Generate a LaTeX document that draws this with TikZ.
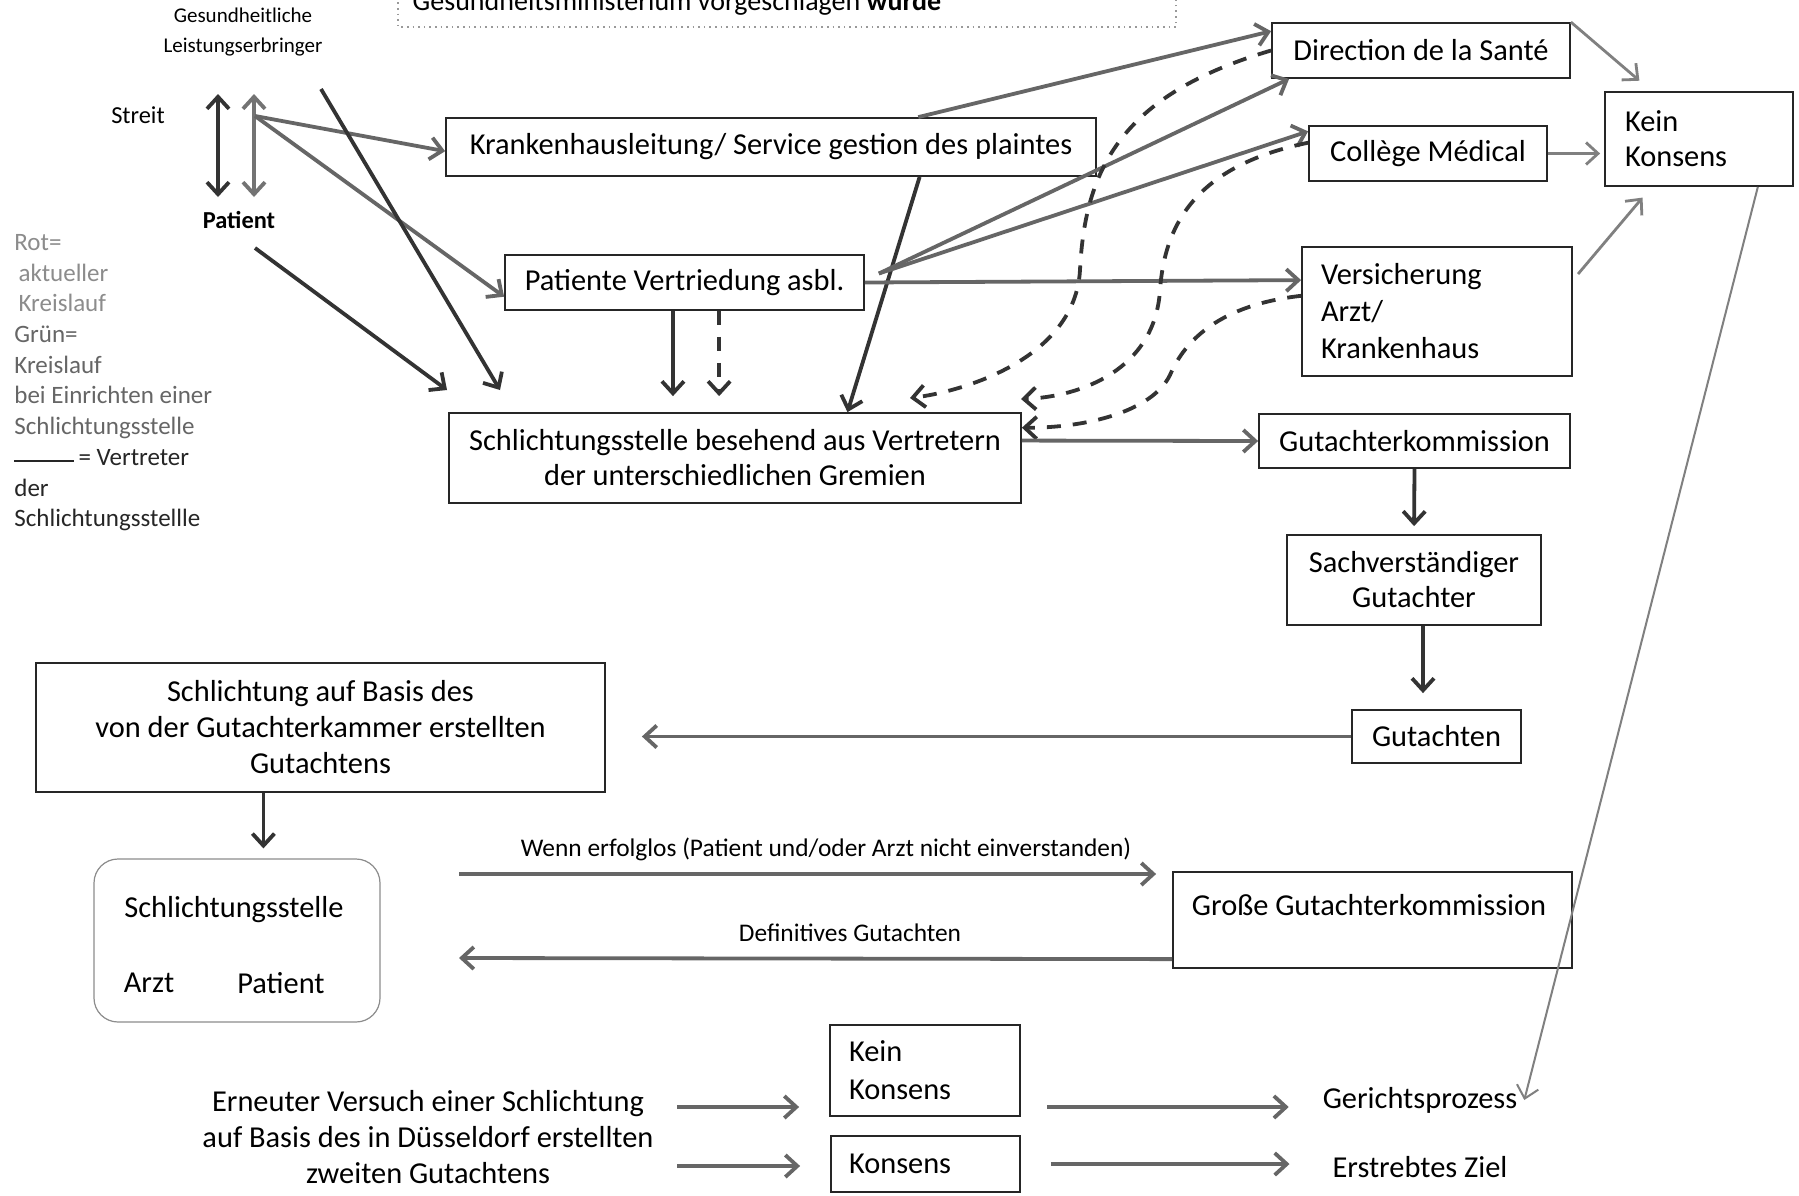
\documentclass[tikz,border=0pt]{standalone}
\usepackage{fontspec}
\setmainfont{Carlito}
\usetikzlibrary{arrows.meta,calc}
\begin{document}
\begin{tikzpicture}[x=0.5pt,y=-0.5pt,
  font=\fontsize{15.2}{17.5}\selectfont,
  box/.style={draw=black!85,line width=0.9pt,inner sep=0pt,align=center},
  small/.style={font=\fontsize{10.5}{15.4}\selectfont,inner sep=0pt},
  con/.style={line width=1.9pt,-{Straight Barb[length=6pt,width=11pt]}},
  dk/.style={con,draw=black!80},
  md/.style={con,draw=black!60},
  lt/.style={con,draw=black!50,line width=1.4pt},
  dsh/.style={dk,dash pattern=on 7pt off 6pt},
  dbl/.style={line width=1.9pt,{Straight Barb[length=6pt,width=11pt]}-{Straight Barb[length=6pt,width=11pt]}},
]
\useasboundingbox (0,0) rectangle (1799,1195);
\clip (0,0) rectangle (1799,1195);
\fill[white] (0,0) rectangle (1799,1195);

% top cut-off box
\draw[black!40,dotted,line width=0.8pt] (398,-20) rectangle (1176,27);
\node[anchor=base,font=\fontsize{14}{16}\selectfont] (gmt) at (677,10) {Gesundheitsministerium vorgeschlagen \textbf{würde}};

% boxes
\node[box,minimum width=325pt,minimum height=29pt] (kh) at (771,147) {Krankenhausleitung/ Service gestion des plaintes};
\node[box,minimum width=149pt,minimum height=27.5pt] (dir) at (1421,50.5) {Direction de la Santé};
\node[box,minimum width=119pt,minimum height=27.5pt] (col) at (1428,153.5) {Collège Médical};
\node[box,minimum width=94pt,minimum height=47pt,text width=74pt,align=left] (kk1) at (1699,139) {Kein\\Konsens};
\node[box,minimum width=179.5pt,minimum height=27.5pt] (pv) at (684.5,282.5) {Patiente Vertriedung asbl.};
\node[box,minimum width=135pt,minimum height=64.5pt,text width=116pt,align=left] (vers) at (1437,311.5) {Versicherung\\[1pt]Arzt/\\[1pt]Krankenhaus};
\node[box,minimum width=286pt,minimum height=45pt] (sch) at (735,458) {Schlichtungsstelle besehend aus Vertretern\\der unterschiedlichen Gremien};
\node[box,minimum width=155.5pt,minimum height=27pt] (gk) at (1414.5,441) {Gutachterkommission};
\node[box,minimum width=127pt,minimum height=45pt] (sv) at (1414,580) {Sachverständiger\\Gutachter};
\node[box,minimum width=84.5pt,minimum height=26.5pt] (gut) at (1436.5,736.5) {Gutachten};
\node[box,minimum width=284.5pt,minimum height=64.5pt] (sab) at (320.5,727.5) {Schlichtung auf Basis des\\[0.5pt]von der Gutachterkammer erstellten\\[0.5pt]Gutachtens};
\node[draw=black!45,line width=0.6pt,rounded corners=12pt,minimum width=143pt,minimum height=81.5pt] (ss) at (237,940.5) {};
\node (sst) at (234,910) {Schlichtungsstelle};
\node (arzt) at (149,983) {Arzt};
\node (ptn) at (281,983) {Patient};
\node[box,minimum width=199.5pt,minimum height=48pt] (ggk) at (1372.5,920) {};
\node (ggkt) at (1369,905) {Große Gutachterkommission};
\node[box,minimum width=95pt,minimum height=45.5pt,text width=76pt,align=left] (kk2) at (925,1070.5) {Kein\\[1.5pt]Konsens};
\node[box,minimum width=94.5pt,minimum height=28pt,text width=76.5pt,align=left] (kon) at (925.5,1164) {Konsens};

% free texts
\node[align=center,font=\fontsize{15.2}{18}\selectfont] (ern) at (428,1137) {Erneuter Versuch einer Schlichtung\\auf Basis des in Düsseldorf erstellten\\zweiten Gutachtens};
\node (ger) at (1420,1100) {Gerichtsprozess};
\node (ziel) at (1420,1167) {Erstrebtes Ziel};
\node[small,font=\fontsize{12.7}{14}\selectfont] (wenn) at (826,849) {Wenn erfolglos (Patient und/oder Arzt nicht einverstanden)};
\node[small,font=\fontsize{12.7}{14}\selectfont] (def) at (850,933) {Definitives Gutachten};
\node[small,align=center] (gl) at (243,32) {Gesundheitliche\\Leistungserbringer};
\node[small,font=\fontsize{12.2}{14}\selectfont] (streit) at (138,115) {Streit};
\node[small,font=\fontsize{12.2}{14}\selectfont\bfseries] (pat) at (239,220) {Patient};
\node[small,font=\fontsize{12.5}{15.35}\selectfont,align=left,anchor=north west] (leg) at (14,234) {%
\textcolor{black!45}{Rot=}\\
\textcolor{black!45}{\,aktueller}\\
\textcolor{black!45}{\,Kreislauf}\\
\textcolor{black!60}{Grün=}\\
\textcolor{black!60}{Kreislauf}\\
\textcolor{black!60}{bei Einrichten einer}\\
\textcolor{black!60}{Schlichtungsstelle}\\
\textcolor{black!85}{\rule[0.3ex]{2.4em}{1pt}\,= Vertreter}\\
\textcolor{black!85}{der}\\
\textcolor{black!85}{Schlichtungsstellle}};

% coordinates for free ends
\coordinate (da1t) at (218,94);
\coordinate (da1b) at (218,197);
\coordinate (da2t) at (254,94);
\coordinate (da2b) at (254,197);
\coordinate (s2) at (255,116);
\coordinate (s3) at (321,89);
\coordinate (e3) at (500,390);
\coordinate (s4) at (255,248);
\coordinate (e4) at (447,390);
\coordinate (hub) at ($(pv.east)+(14,-9)$);
\coordinate (p1) at ($(pv.south west)!0.468!(pv.south east)$);
\coordinate (p2) at ($(pv.south west)!0.596!(pv.south east)$);
\coordinate (d1e) at (910,398);
\coordinate (d2e) at (1021,399);
\coordinate (q) at ($(sv.south)+(9,0)$);
\coordinate (r) at ($(sab.south west)!0.40!(sab.south east)$);
\coordinate (w1) at (459,874);
\coordinate (w2) at (459,958);
\coordinate (gl2) at ($(ggk.north west)!0.9!(ggk.south west)$);
\coordinate (a1) at (677,1107);
\coordinate (a2) at (677,1166);
\coordinate (b1) at (1020,1107);

% left connectors
\draw[dbl,draw=black!80] (da1t) -- (da1b);
\draw[dbl,draw=black!55] (da2t) -- (da2b);
\draw[md] (s2) -- ($(kh.north west)!0.57!(kh.south west)$);
\draw[md] (s2) -- ($(pv.north west)!0.75!(pv.south west)$);
\draw[dk] (s3) -- (e3);
\draw[dk] (s4) -- (e4);

% upper middle connectors
\draw[md] ($(kh.north west)!0.726!(kh.north east)$) -- ($(dir.north west)!0.16!(dir.south west)$);
\draw[dk] ($(kh.south west)!0.728!(kh.south east)$) -- ($(sch.north west)!0.696!(sch.north east)$);
\draw[md] (hub) -- ($(dir.south west)!0.06!(dir.south east)$);
\draw[md] (hub) -- ($(col.north west)!0.11!(col.south west)$);
\draw[md] (pv.east) -- ($(vers.north west)!0.26!(vers.south west)$);
\draw[dk,shorten >=8pt] (p1) -- (p1 |- sch.north);
\draw[dsh,shorten >=8pt] (p2) -- (p2 |- sch.north);

% dashed curves
\draw[dsh] (dir.west) .. controls (1120,95) and (1085,170) .. (1080,270) .. controls (1075,360) and (960,392) .. (d1e);
\draw[dsh] ($(col.north west)!0.31!(col.south west)$) .. controls (1200,165) and (1165,220) .. (1160,290) .. controls (1155,370) and (1080,397) .. (d2e);
\draw[dsh] ($(vers.north west)!0.38!(vers.south west)$) .. controls (1220,305) and (1185,340) .. (1170,375) .. controls (1152,412) and (1085,428) .. ($(sch.north east)!0.17!(sch.south east)$);

% right column
\draw[md] ($(sch.north east)!0.31!(sch.south east)$) -- (gk.west);
\draw[dk,shorten >=4pt] (gk.south) -- (sv.north);
\draw[dk,shorten >=8pt] (q) -- (q |- gut.north);
\draw[md,shorten >=18pt] (gut.west) -- (gut.west -| sab.east);
\draw[dk,shorten >=5pt] (r) -- (r |- ss.north);
\draw[md,shorten >=8pt] (w1) -- (w1 -| ggk.west);
\draw[md] (gl2) -- (w2);

% bottom arrows
\draw[md,shorten >=15pt] (a1) -- (a1 -| kk2.west);
\draw[md,shorten >=15pt] (a2) -- (a2 -| kon.west);
\draw[md,shorten <=13.5pt,shorten >=13.5pt] (b1) -- (b1 -| ger.west);
\draw[md,shorten <=15pt,shorten >=18pt] (kon.east) -- (kon.east -| ziel.west);

% to and from Kein Konsens
\draw[lt,shorten >=8pt] (dir.north east) -- ($(kk1.north west)!0.25!(kk1.north east)$);
\draw[lt,shorten >=2pt] (col.east) -- (col.east -| kk1.west);
\draw[lt,shorten <=4pt,shorten >=7pt] ($(vers.north east)!0.26!(vers.south east)$) -- ($(kk1.south west)!0.25!(kk1.south east)$);
\draw[lt,line width=1pt] ($(kk1.south west)!0.81!(kk1.south east)$) -- (ger.east);
\end{tikzpicture}
\end{document}
